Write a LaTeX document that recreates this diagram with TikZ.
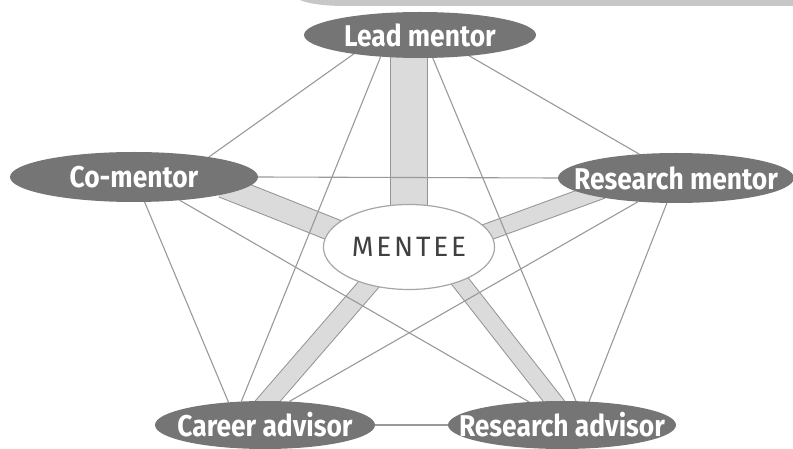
\documentclass[tikz,border=0pt]{standalone}
\usepackage{fontspec}
\newfontfamily\rolefont{Fira Sans}[FakeStretch=0.88]
\newfontfamily\menteefont{Fira Sans}[LetterSpace=10]
\usetikzlibrary{shapes.geometric}
\pgfdeclarelayer{bg}
\pgfsetlayers{bg,main}
\tikzstyle{every path}=[line cap=round,line join=round]
\tikzstyle{role}=[ellipse,fill=black!54,inner sep=0pt,minimum height=48]
\tikzstyle{rolename}=[text=white,inner sep=0pt,font=\rolefont\bfseries\fontsize{30}{32}\selectfont]
\tikzstyle{link}=[draw=black!40,line width=1.1pt]
\tikzstyle{band}=[draw=black!42,line width=1pt,line cap=butt,double=black!14,shorten <=-14pt,shorten >=-14pt]

\begin{document}
\begin{tikzpicture}[x=1pt,y=-1pt]
  \useasboundingbox (0,0) rectangle (793,449);
  \fill[black!22] (300,0) -- (793,0) -- (793,6) -- (345,6) .. controls (322,6) and (306,3) .. (300,0);

  \node[role,minimum width=232,minimum height=46,label={[rolename]center:Lead mentor}] (lead) at (420,35) {};
  \node[role,minimum width=248,minimum height=50,label={[rolename]center:Co-mentor}] (co) at (134,177) {};
  \node[role,minimum width=236,minimum height=50,label={[rolename]center:Research mentor}] (rm) at (676,178) {};
  \node[role,minimum width=220,label={[rolename]center:Career advisor}] (ca) at (265,425) {};
  \node[role,minimum width=228,label={[rolename]center:Research advisor}] (ra) at (562,425) {};
  \node[ellipse,draw=black!35,line width=1.2pt,fill=white,minimum width=152,minimum height=85,
        text=black!75,font=\menteefont\fontsize{28}{30}\selectfont] (mentee) at (409,247) {MENTEE};

  \begin{pgfonlayer}{bg}
    \draw[band,double distance=36pt,shorten >=0pt] (mentee.center) -- (mentee.center |- lead.center);
    \draw[band,double distance=22pt] (co.352) -- (mentee.167);
    \draw[band,double distance=16pt] (rm.191) -- (mentee.11);
    \draw[band,double distance=18pt] (ca.83) -- (mentee.223);
    \draw[band,double distance=16pt] (ra.109) -- (mentee.326);

    \draw[link] (lead.196) -- (co.15);
    \draw[link] (lead.337) -- (rm.147);
    \draw[link] (lead.209) -- (ca.135);
    \draw[link] (lead.299) -- (ra.60);
    \draw[link] (co.east) -- (rm.west);
    \draw[link] (co.293) -- (ca.148);
    \draw[link] (co.333) -- (ra.145);
    \draw[link] (rm.212) -- (ca.44);
    \draw[link] (rm.250) -- (ra.41);
    \draw[link] (ca.east) -- (ra.west);
  \end{pgfonlayer}
\end{tikzpicture}
\end{document}
